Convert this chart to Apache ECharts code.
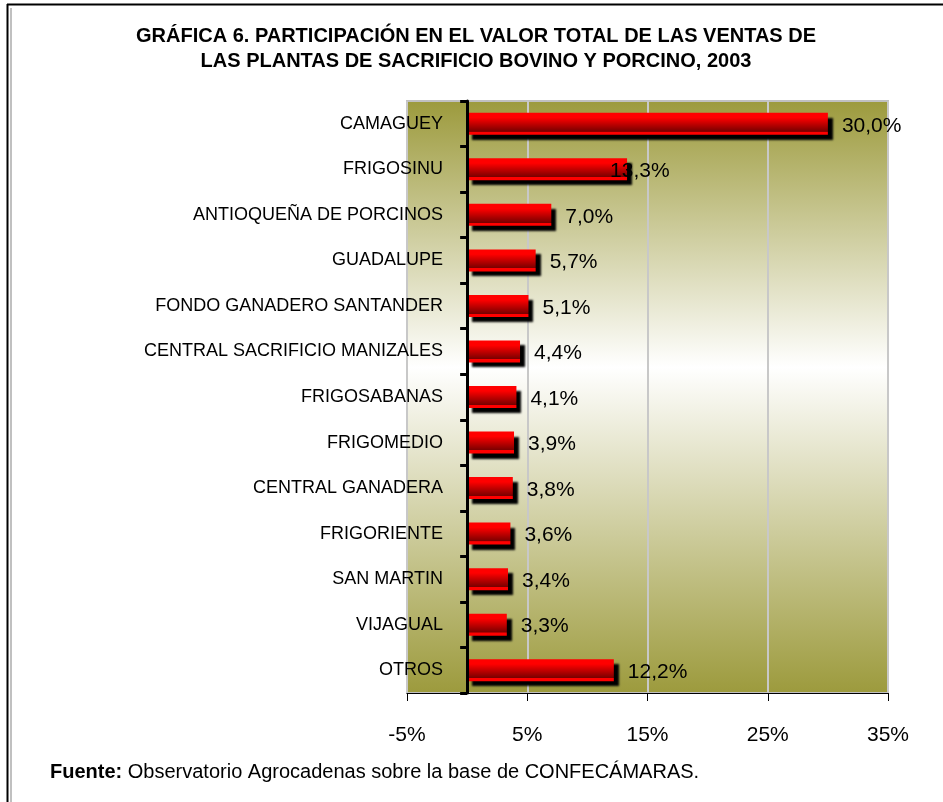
<!DOCTYPE html>
<html>
<head>
<meta charset="utf-8">
<script src="https://cdn.jsdelivr.net/npm/echarts@6/dist/echarts.min.js"></script>
<style>
  html, body { margin: 0; padding: 0; background: #fff; }
  #chart { width: 943px; height: 802px; }
</style>
</head>
<body>
<div id="chart"></div>
<script>
  // plantas de sacrificio, participación en ventas 2003 (%)
  const plantas = ['CAMAGUEY', 'FRIGOSINU', 'ANTIOQUEÑA DE PORCINOS', 'GUADALUPE',
    'FONDO GANADERO SANTANDER', 'CENTRAL SACRIFICIO MANIZALES', 'FRIGOSABANAS',
    'FRIGOMEDIO', 'CENTRAL GANADERA', 'FRIGORIENTE', 'SAN MARTIN', 'VIJAGUAL', 'OTROS'];
  const participacion = [30.0, 13.3, 7.0, 5.7, 5.1, 4.4, 4.1, 3.9, 3.8, 3.6, 3.4, 3.3, 12.2];
  const ejeMin = -5;
  const ejeMax = 35;
  const ejePaso = 10;

  const font = 'Liberation Sans, Arial, sans-serif';
  const olive = '#9c9a3c';

  const chart = echarts.init(document.getElementById('chart'));

  const datos = participacion.map(function (v, i) {
    const item = { value: v };
    // en el original la etiqueta de FRIGOSINU queda encima de la barra
    if (i === 1) item.label = { offset: [-31, 2] };
    return item;
  });

  chart.setOption({
    animation: false,
    title: [
      {
        text: 'GRÁFICA 6. PARTICIPACIÓN EN EL VALOR TOTAL DE LAS VENTAS DE\nLAS PLANTAS DE SACRIFICIO BOVINO Y PORCINO, 2003',
        left: 471,
        top: 19,
        textAlign: 'center',
        textStyle: {
          fontFamily: font,
          fontWeight: 'bold',
          fontSize: 20,
          lineHeight: 25,
          color: '#000'
        }
      },
      {
        text: '{b|Fuente:} Observatorio Agrocadenas sobre la base de CONFECÁMARAS.',
        left: 45,
        top: 757,
        textStyle: {
          fontFamily: font,
          fontSize: 20,
          fontWeight: 'normal',
          color: '#000',
          rich: {
            b: { fontFamily: font, fontSize: 20, fontWeight: 'bold', color: '#000' }
          }
        }
      }
    ],
    graphic: [
      { type: 'line', shape: { x1: 7, y1: 4.5, x2: 943, y2: 4.5 }, style: { stroke: '#000', lineWidth: 2 } },
      { type: 'line', shape: { x1: 7.5, y1: 4, x2: 7.5, y2: 802 }, style: { stroke: '#000', lineWidth: 2 } },
      { type: 'line', shape: { x1: 11, y1: 8, x2: 11, y2: 802 }, style: { stroke: '#c0c0c0', lineWidth: 2 } }
    ],
    grid: {
      left: 407,
      right: 55,
      top: 101,
      bottom: 109,
      show: true,
      borderColor: '#c0c0c0',
      borderWidth: 2,
      backgroundColor: new echarts.graphic.LinearGradient(0, 0, 0, 1, [
        { offset: 0, color: olive },
        { offset: 0.45, color: '#ffffff' },
        { offset: 1, color: olive }
      ])
    },
    xAxis: {
      type: 'value',
      min: ejeMin,
      max: ejeMax,
      interval: ejePaso,
      axisLine: { show: true, onZero: false, lineStyle: { color: '#000', width: 1 } },
      axisTick: { show: true, length: 8, lineStyle: { color: '#000', width: 1 } },
      axisLabel: {
        margin: 32,
        fontFamily: font,
        fontSize: 21,
        color: '#000',
        formatter: function (v) { return v + '%'; }
      },
      splitLine: { show: true, lineStyle: { color: '#c8c8c8', width: 2 } }
    },
    yAxis: {
      type: 'category',
      data: plantas,
      inverse: true,
      z: 5,
      axisLine: { show: true, onZero: true, lineStyle: { color: '#000', width: 3 } },
      axisTick: { show: true, length: 7, lineStyle: { color: '#000', width: 3 } },
      axisLabel: {
        margin: -36,
        fontFamily: font,
        fontSize: 18,
        color: '#000'
      }
    },
    series: [
      {
        type: 'bar',
        data: datos,
        barWidth: 22,
        z: 3,
        itemStyle: {
          color: new echarts.graphic.LinearGradient(0, 0, 0, 1, [
            { offset: 0, color: '#ff0000' },
            { offset: 0.22, color: '#ff0000' },
            { offset: 0.85, color: '#780000' },
            { offset: 0.86, color: '#ff0000' },
            { offset: 1, color: '#ff0000' }
          ]),
          shadowColor: 'rgba(0,0,0,1)',
          shadowBlur: 2,
          shadowOffsetX: 5,
          shadowOffsetY: 5
        },
        label: {
          show: true,
          position: 'right',
          distance: 14,
          offset: [0, 2],
          fontFamily: font,
          fontSize: 21,
          color: '#000',
          formatter: function (p) { return p.value.toFixed(1).replace('.', ',') + '%'; }
        }
      }
    ]
  });
</script>
</body>
</html>
